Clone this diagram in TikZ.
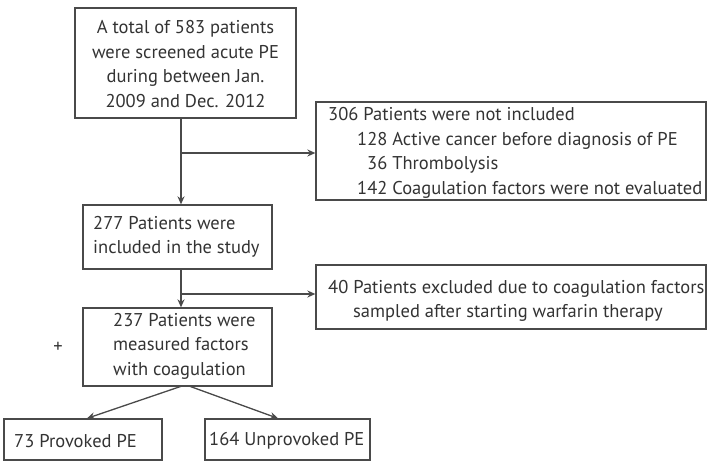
\documentclass[tikz,border=0pt]{standalone}
\usepackage{fontspec}
\setmainfont{PT Sans}
\usetikzlibrary{arrows.meta}
\definecolor{ln}{HTML}{4A4A4A}
\definecolor{tx}{HTML}{333333}
\tikzset{
  box/.style={draw=ln, line width=1.3pt, rectangle, inner sep=0pt},
  txt/.style={text=tx, inner sep=0pt, font=\fontsize{18.5}{24.5}\selectfont},
  conn/.style={draw=ln, line width=1.3pt},
  arr/.style={conn, -{Stealth[length=8pt,width=7pt]}}
}
\begin{document}
\begin{tikzpicture}[x=1pt,y=-1pt]
\useasboundingbox (0,0) rectangle (708,462);
% boxes
\node[box, minimum width=221pt, minimum height=110pt] (b1) at (185.5,63) {};
\node[box, minimum width=390pt, minimum height=98pt] (b306) at (511,151) {};
\node[box, minimum width=189pt, minimum height=64pt] (b277) at (177.5,237) {};
\node[box, minimum width=390pt, minimum height=64pt] (b40) at (511,297) {};
\node[box, minimum width=189pt, minimum height=78pt] (b237) at (177.5,347) {};
\node[box, minimum width=158pt, minimum height=41pt] (b73) at (83,439.5) {};
\node[box, minimum width=165pt, minimum height=41pt] (b164) at (287.5,439.5) {};
% texts
\node[txt, align=center] (t1) at (185.5,64) {A total of 583 patients\\were screened acute PE\\during between Jan.\\2009 and Dec. 2012};
\node[txt, align=left, anchor=west] (t306) at (328,153) {306 Patients were not included\\\hspace*{29pt}128 Active cancer before diagnosis of PE\\\hspace*{39pt}36 Thrombolysis\\\hspace*{29pt}142 Coagulation factors were not evaluated};
\node[txt, align=left, anchor=west] (t277) at (93,237) {277 Patients were\\included in the study};
\node[txt, align=left, anchor=west] (t40) at (328,301) {40 Patients excluded due to coagulation factors\\\hspace*{25pt}sampled after starting warfarin therapy};
\node[txt, align=left, anchor=west] (t237) at (113,346) {237 Patients were\\measured factors\\with coagulation};
\node[txt, anchor=west] (t73) at (14,441) {73 Provoked PE};
\node[txt, anchor=west] (t164) at (209,441) {164 Unprovoked PE};
\node[txt] (plus) at (58,347) {+};
% connectors
\coordinate (j1) at (181,153);
\coordinate (j2) at (181,294);
\draw[arr] (b1.south -| j1) -- (b277.north -| j1);
\draw[arr] (j1) -- (b306.west |- j1);
\draw[arr] (b277.south -| j2) -- (b237.north -| j2);
\draw[arr] (j2) -- (b40.west |- j2);
\coordinate (s1) at (182,386);
\coordinate (s2) at (189,386);
\coordinate (e1) at (87,419);
\coordinate (e2) at (278,419);
\draw[arr] (s1) -- (e1 |- b73.north);
\draw[arr] (s2) -- (e2 |- b164.north);
\end{tikzpicture}
\end{document}
